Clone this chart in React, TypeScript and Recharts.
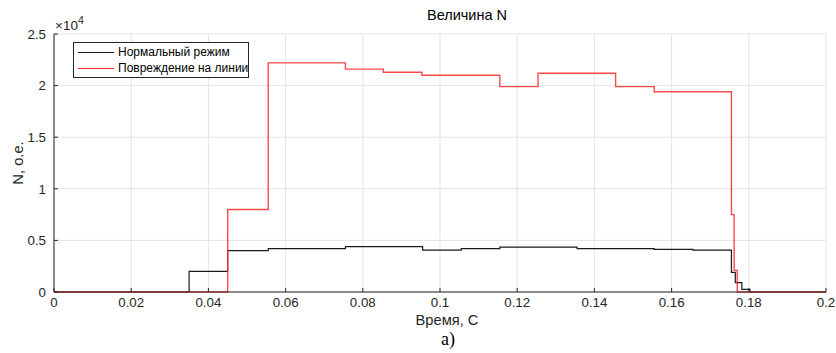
import React from "react";
import { LineChart, Line, CartesianGrid, XAxis, YAxis } from "recharts";

// time stamps (s) and N values (o.e.)
const normalTime = [0, 0.035, 0.045, 0.0555, 0.0755, 0.0955, 0.1055, 0.1155, 0.1355, 0.1555, 0.1655, 0.1755, 0.1765, 0.1782, 0.1803, 0.2];
const normalValue = [0, 2000, 4000, 4200, 4400, 4050, 4200, 4350, 4200, 4130, 4050, 1900, 900, 250, 0, 0];

const faultTime = [0, 0.045, 0.0555, 0.0755, 0.0853, 0.0953, 0.1155, 0.1254, 0.1455, 0.1555, 0.1755, 0.1762, 0.177, 0.2];
const faultValue = [0, 8000, 22200, 21600, 21300, 21000, 19900, 21200, 19900, 19400, 7500, 2100, 0, 0];

const xTicks = [0, 0.02, 0.04, 0.06, 0.08, 0.1, 0.12, 0.14, 0.16, 0.18, 0.2];
const yTicks = [0, 5000, 10000, 15000, 20000, 25000];

const seriesNames = ["Нормальный режим", "Повреждение на линии"];
const seriesColors = ["#1a1a1a", "#ff2a2a"];

const normalData = normalTime.map((t, i) => ({ t, v: normalValue[i] }));
const faultData = faultTime.map((t, i) => ({ t, v: faultValue[i] }));

const font = "'Liberation Sans', Arial, sans-serif";
const axisColor = "#262626";
const tickStyle = { fill: axisColor, fontSize: 13.3, fontFamily: font };

export default function App() {
  return (
    <div style={{ position: "absolute", left: 0, top: 0, width: 836, height: 353, background: "#fff" }}>
      <LineChart
        width={836}
        height={353}
        data={normalData}
        margin={{ top: 34, right: 10, bottom: 31, left: 14 }}
      >
        <CartesianGrid stroke="#e3e3e3" />
        <XAxis
          dataKey="t"
          type="number"
          domain={[0, 0.2]}
          ticks={xTicks}
          tickFormatter={(v: number) => String(+v.toFixed(2))}
          tick={tickStyle}
          height={30}
          stroke={axisColor}
          tickSize={-4}
          tickMargin={10}
          allowDataOverflow
        />
        <XAxis
          xAxisId="top"
          orientation="top"
          dataKey="t"
          type="number"
          domain={[0, 0.2]}
          ticks={xTicks}
          tick={false}
          height={0}
          stroke={axisColor}
          tickSize={-4}
        />
        <YAxis
          type="number"
          domain={[0, 25000]}
          ticks={yTicks}
          tickFormatter={(v: number) => String(v / 10000)}
          tick={tickStyle}
          width={40}
          stroke={axisColor}
          tickSize={-4}
          tickMargin={12}
        />
        <YAxis
          yAxisId="right"
          orientation="right"
          type="number"
          domain={[0, 25000]}
          ticks={yTicks}
          tick={false}
          width={0}
          stroke={axisColor}
          tickSize={-4}
        />
        <Line
          data={normalData}
          dataKey="v"
          type="stepAfter"
          stroke={seriesColors[0]}
          strokeWidth={1.2}
          dot={false}
          isAnimationActive={false}
        />
        <Line
          data={faultData}
          dataKey="v"
          type="stepAfter"
          stroke={seriesColors[1]}
          strokeOpacity={0.85}
          strokeWidth={1.4}
          dot={false}
          isAnimationActive={false}
        />
      </LineChart>

      <div style={{ position: "absolute", left: 55, top: 14, fontFamily: font, fontSize: 13.5, color: axisColor, whiteSpace: "nowrap" }}>
        ×10<sup style={{ fontSize: 10.5 }}>4</sup>
      </div>
      <div style={{ position: "absolute", left: 367, width: 200, top: 7, textAlign: "center", fontFamily: font, fontSize: 14.5, color: "#000" }}>
        Величина N
      </div>
      <div style={{ position: "absolute", left: 347, width: 200, top: 312, textAlign: "center", fontFamily: font, fontSize: 14.7, color: axisColor }}>
        Время, С
      </div>
      <div
        style={{
          position: "absolute",
          left: 18,
          top: 163,
          transform: "translate(-50%, -50%) rotate(-90deg)",
          whiteSpace: "nowrap",
          fontFamily: font,
          fontSize: 14.7,
          color: axisColor,
        }}
      >
        N, о.е.
      </div>
      <div style={{ position: "absolute", left: 348, width: 200, top: 329, textAlign: "center", fontFamily: "'Liberation Serif', 'Times New Roman', serif", fontSize: 18 }}>
        а)
      </div>

      <div
        style={{
          position: "absolute",
          left: 73,
          top: 42,
          width: 176,
          height: 36,
          border: `1px solid ${axisColor}`,
          background: "#fff",
          fontFamily: font,
          fontSize: 12,
          color: "#000",
          boxSizing: "border-box",
          whiteSpace: "nowrap",
        }}
      >
        {seriesNames.map((name, i) => (
          <div key={name} style={{ display: "flex", alignItems: "center", height: 16, marginTop: i === 0 ? 1 : 0 }}>
            <span style={{ display: "inline-block", flexShrink: 0, width: 36, height: 0, borderTop: `1.3px solid ${seriesColors[i]}`, marginLeft: 4, marginRight: 4 }} />
            <span style={{ whiteSpace: "nowrap" }}>{name}</span>
          </div>
        ))}
      </div>
    </div>
  );
}
